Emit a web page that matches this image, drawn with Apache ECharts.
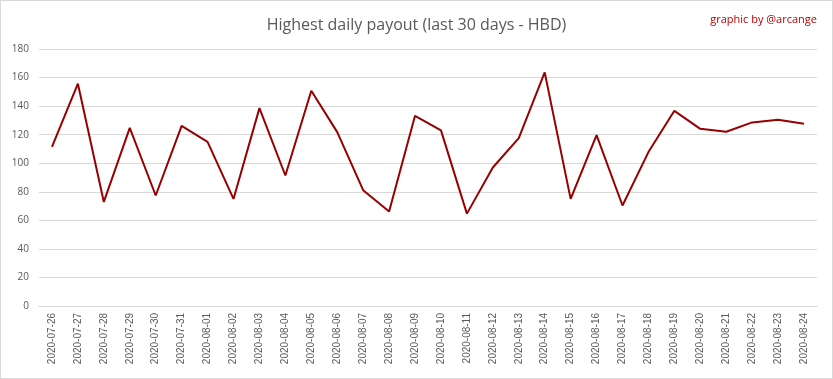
<!DOCTYPE html>
<html><head><meta charset="utf-8">
<script src="https://cdn.jsdelivr.net/npm/echarts@6/dist/echarts.min.js"></script>
<style>html,body{margin:0;padding:0;background:#fff}#c{width:831px;height:377px;border:1px solid #d9d9d9}</style>
</head><body><div id="c"></div>
<script>
const categories = ["2020-07-26","2020-07-27","2020-07-28","2020-07-29","2020-07-30","2020-07-31","2020-08-01","2020-08-02","2020-08-03","2020-08-04","2020-08-05","2020-08-06","2020-08-07","2020-08-08","2020-08-09","2020-08-10","2020-08-11","2020-08-12","2020-08-13","2020-08-14","2020-08-15","2020-08-16","2020-08-17","2020-08-18","2020-08-19","2020-08-20","2020-08-21","2020-08-22","2020-08-23","2020-08-24"];
const payout = [111.5,155.7,72.9,124.8,77.4,126.2,115,75,138.6,91.4,150.8,121.8,81.1,66.2,133.2,123,64.7,97,117.6,163.6,75,119.7,70.4,107.8,136.7,124.1,122,128.6,130.4,127.6];
const titleText = "Highest daily payout (last 30 days - HBD)";
const creditText = "graphic by @arcange";
const chart = echarts.init(document.getElementById('c'));
chart.setOption({
  animation:false,
  title:[
    {text:titleText,left:'center',top:11,textStyle:{fontFamily:'Open Sans',fontSize:16,fontWeight:'normal',color:'#595959'}},
    {text:creditText,right:10,top:8,textStyle:{fontFamily:'Open Sans',fontSize:11,fontWeight:'normal',color:'#c00000'}}
  ],
  grid:{left:38,right:15,top:48,bottom:72,containLabel:false},
  xAxis:{type:'category',data:categories,boundaryGap:true,
    axisLine:{lineStyle:{color:'#d9d9d9'}},axisTick:{show:false},
    axisLabel:{rotate:90,fontFamily:'Liberation Sans',fontSize:10,color:'#595959',interval:0,margin:7}},
  yAxis:{type:'value',min:0,max:180,interval:20,
    axisLine:{show:false},axisTick:{show:false},
    splitLine:{lineStyle:{color:'#d9d9d9'}},
    axisLabel:{fontFamily:'Open Sans',fontSize:10,color:'#595959',margin:10}},
  series:[{type:'line',data:payout,symbol:'none',lineStyle:{color:'#960000',width:2}}]
});
</script></body></html>
